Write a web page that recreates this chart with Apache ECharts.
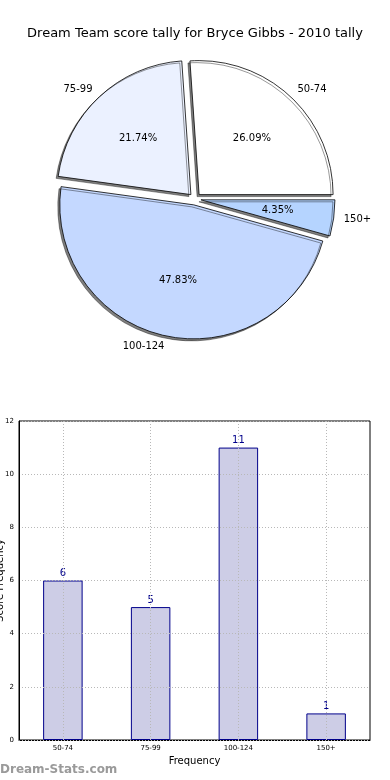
<!DOCTYPE html>
<html><head><meta charset="utf-8">
<script src="https://cdn.jsdelivr.net/npm/echarts@6/dist/echarts.min.js"></script>
<style>html,body{margin:0;padding:0;background:#fff}#c{width:390px;height:780px}</style>
</head><body><div id="c"></div>
<script>
const categories = ['50-74', '75-99', '100-124', '150+'];
const counts = [6, 5, 11, 1];
const pieColors = ['#ffffff', '#ebf1ff', '#c4d8ff', '#b5d4ff'];
const yTicks = [0, 2, 4, 6, 8, 10, 12];

const R = 134, CX = 195, CY = 199;
const FONT = 'DejaVu Sans';
const total = counts.reduce((a, b) => a + b, 0);

const chart = echarts.init(document.getElementById('c'));
const pieMain = categories.map((c, i) => ({
  name: c, value: counts[i], selected: true,
  itemStyle: { color: pieColors[i] }
}));
const pieBlank = categories.map((c, i) => ({ name: c, value: counts[i], itemStyle: { color: 'rgba(0,0,0,0)' } }));

chart.setOption({
  animation: false,
  title: {
    text: 'Dream Team score tally for Bryce Gibbs - 2010 tally',
    left: 'center', top: 22,
    textStyle: { fontFamily: FONT, fontSize: 13, fontWeight: 'normal', color: '#000' }
  },
  graphic: [{
    type: 'text', left: 0, top: 764,
    style: { text: 'Dream-Stats.com', fontFamily: FONT, fontSize: 12, fontWeight: 'bold', fill: '#9a9a9a' }
  }],
  grid: { left: 19, right: 20, top: 421, bottom: 40, show: true, borderColor: '#000', borderWidth: 1,
    containLabel: false, outerBoundsMode: 'none' },
  xAxis: {
    type: 'category', data: categories,
    name: 'Frequency', nameLocation: 'middle', nameGap: 16,
    nameTextStyle: { fontFamily: FONT, fontSize: 10, color: '#000' },
    axisLine: { lineStyle: { color: '#000' } },
    axisTick: { show: false },
    axisLabel: { fontFamily: FONT, fontSize: 7, color: '#000', margin: 5 }
  },
  yAxis: {
    type: 'value', min: 0, max: 12, interval: 2, z: 3,
    name: 'Score Frequency', nameLocation: 'middle', nameGap: 14, nameMoveOverlap: false,
    nameTextStyle: { fontFamily: FONT, fontSize: 10, color: '#000' },
    axisLine: { show: true, lineStyle: { color: '#000' } },
    axisTick: { show: false },
    axisLabel: { fontFamily: FONT, fontSize: 7, color: '#000', margin: 5,
      formatter: v => yTicks.includes(v) ? String(v) : '' },
    splitLine: { show: true, lineStyle: { color: '#b8b8b8', type: [1, 2], width: 1 } }
  },
  series: [
    {
      type: 'pie', center: [CX, CY], radius: R, startAngle: 0, clockwise: false,
      selectedMode: 'multiple', selectedOffset: 6, silent: true,
      data: pieMain, label: { show: false }, labelLine: { show: false },
      emphasis: { disabled: true },
      itemStyle: { borderColor: '#000', borderWidth: 0.8, shadowColor: 'rgba(0,0,0,0.5)', shadowBlur: 0, shadowOffsetX: -2, shadowOffsetY: 2 },
      select: { itemStyle: { borderColor: '#000', borderWidth: 0.8 } }
    },
    {
      type: 'pie', center: [CX, CY], radius: R * 1.2, startAngle: 0, clockwise: false,
      silent: true, data: pieBlank, emphasis: { disabled: true },
      itemStyle: { borderWidth: 0 },
      label: { show: true, position: 'inside', formatter: p => (p.value / total * 100).toFixed(2) + '%', fontFamily: FONT, fontSize: 10, color: '#000' },
      labelLine: { show: false }
    },
    {
      type: 'pie', center: [CX, CY], radius: R * 1.12, startAngle: 0, clockwise: false,
      silent: true, data: pieBlank, emphasis: { disabled: true }, avoidLabelOverlap: false,
      itemStyle: { borderWidth: 0 },
      label: { show: true, position: 'outside', formatter: '{b}', fontFamily: FONT, fontSize: 10, color: '#000', distanceToLabelLine: 0 },
      labelLine: { show: false, length: 0, length2: 0 }
    },
    {
      type: 'bar', data: counts, barWidth: '45%',
      itemStyle: { color: '#cdcde6', borderColor: '#00008b', borderWidth: 1 },
      label: { show: true, position: 'top', distance: 2, fontFamily: FONT, fontSize: 10, color: '#00008b' },
      markLine: {
        silent: true, symbol: 'none', label: { show: false },
        lineStyle: { color: '#b8b8b8', type: [1, 2], width: 1 },
        data: categories.map(c => ({ xAxis: c }))
      }
    }
  ]
});
</script></body></html>
